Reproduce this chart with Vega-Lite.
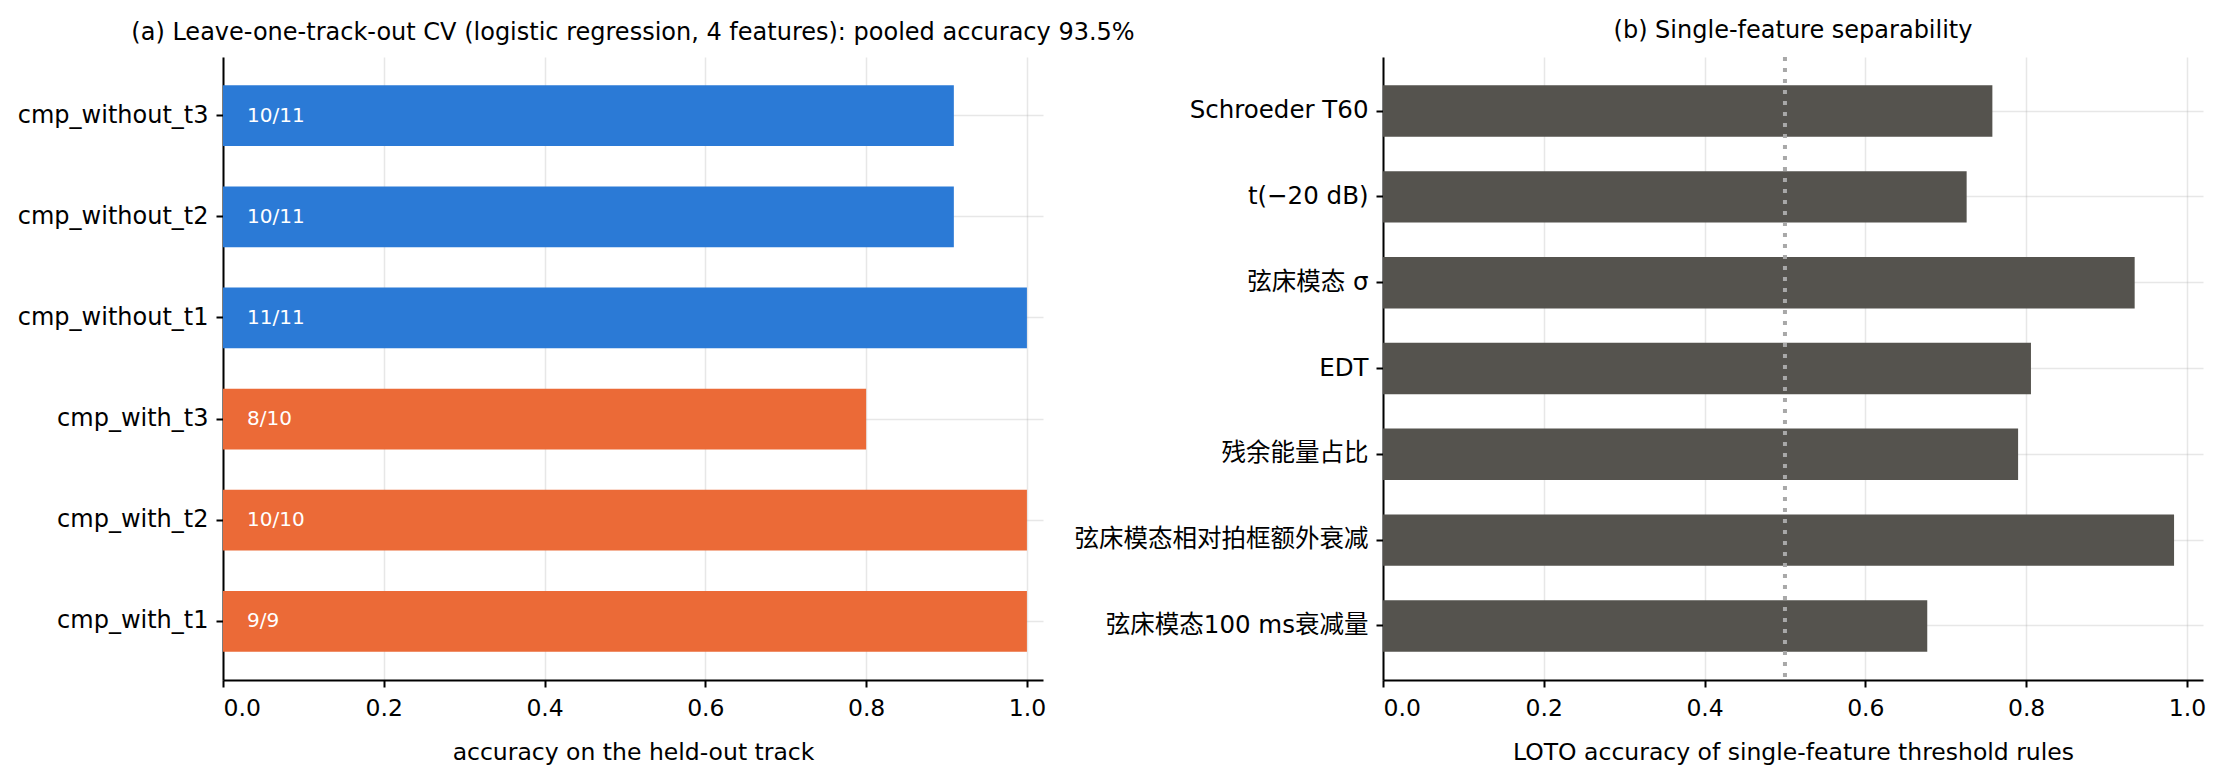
{
  "$schema": "https://vega.github.io/schema/vega-lite/v6.json",
  "padding": {"left": 17, "top": 19, "right": 5, "bottom": 5},
  "bounds": "flush",
  "spacing": 340,
  "config": {
    "font": "DejaVu Sans, Noto Sans CJK SC",
    "view": {"stroke": null},
    "axis": {
      "labelFontSize": 23.5,
      "titleFontSize": 23.5,
      "titleFontWeight": "normal",
      "labelColor": "#000000",
      "titleColor": "#000000",
      "domainColor": "#000000",
      "domainWidth": 2,
      "tickColor": "#000000",
      "tickWidth": 2,
      "tickSize": 7,
      "gridColor": "#b0b0b0",
      "gridOpacity": 0.3,
      "gridWidth": 1.5,
      "zindex": 1,
      "labelPadding": 9,
      "labelLimit": 500,
      "bandPosition": 0.5
    },
    "title": {"fontSize": 24, "fontWeight": "normal", "color": "#000000", "frame": "group", "anchor": "middle", "offset": 12}
  },
  "hconcat": [
    {
      "width": 820,
      "height": 623,
      "title": "(a) Leave-one-track-out CV (logistic regression, 4 features): pooled accuracy 93.5%",
      "data": {"values": [
        {"track": "cmp_without_t3", "accuracy": 0.9091, "condition": "without", "label": "10/11"},
        {"track": "cmp_without_t2", "accuracy": 0.9091, "condition": "without", "label": "10/11"},
        {"track": "cmp_without_t1", "accuracy": 1.0, "condition": "without", "label": "11/11"},
        {"track": "cmp_with_t3", "accuracy": 0.8, "condition": "with", "label": "8/10"},
        {"track": "cmp_with_t2", "accuracy": 1.0, "condition": "with", "label": "10/10"},
        {"track": "cmp_with_t1", "accuracy": 1.0, "condition": "with", "label": "9/9"}
      ]},
      "layer": [
        {
          "mark": "bar",
          "encoding": {
            "y": {"field": "track", "type": "nominal",
                  "sort": ["cmp_without_t3", "cmp_without_t2", "cmp_without_t1", "cmp_with_t3", "cmp_with_t2", "cmp_with_t1"],
                  "scale": {"paddingInner": 0.4, "paddingOuter": 0.28},
                  "axis": {"title": null, "grid": true, "minExtent": 204, "maxExtent": 204, "labelPadding": 8, "labelFontSize": 24}},
            "x": {"field": "accuracy", "type": "quantitative",
                  "scale": {"domain": [0, 1.02], "nice": false},
                  "axis": {"values": [0, 0.2, 0.4, 0.6, 0.8, 1.0], "format": ".1f", "title": "accuracy on the held-out track", "titlePadding": 21}},
            "color": {"field": "condition", "type": "nominal",
                      "scale": {"domain": ["without", "with"], "range": ["#2b7ad6", "#eb6a37"]},
                      "legend": null}
          }
        },
        {
          "mark": {"type": "text", "align": "left", "baseline": "middle", "color": "#ffffff", "fontSize": 20},
          "encoding": {
            "y": {"field": "track", "type": "nominal",
                  "sort": ["cmp_without_t3", "cmp_without_t2", "cmp_without_t1", "cmp_with_t3", "cmp_with_t2", "cmp_with_t1"]},
            "x": {"datum": 0.03, "type": "quantitative"},
            "text": {"field": "label"}
          }
        }
      ]
    },
    {
      "width": 820,
      "height": 623,
      "title": "(b) Single-feature separability",
      "data": {"values": [
        {"feature": "Schroeder T60", "accuracy": 0.758},
        {"feature": "t(−20 dB)", "accuracy": 0.726},
        {"feature": "弦床模态 σ", "accuracy": 0.935},
        {"feature": "EDT", "accuracy": 0.806},
        {"feature": "残余能量占比", "accuracy": 0.790},
        {"feature": "弦床模态相对拍框额外衰减", "accuracy": 0.984},
        {"feature": "弦床模态100 ms衰减量", "accuracy": 0.677}
      ]},
      "layer": [
        {
          "mark": {"type": "bar", "color": "#55534e"},
          "encoding": {
            "y": {"field": "feature", "type": "nominal",
                  "sort": ["Schroeder T60", "t(−20 dB)", "弦床模态 σ", "EDT", "残余能量占比", "弦床模态相对拍框额外衰减", "弦床模态100 ms衰减量"],
                  "scale": {"paddingInner": 0.4, "paddingOuter": 0.33},
                  "axis": {"title": null, "grid": true, "labelPadding": 8, "labelFontSize": 24.5}},
            "x": {"field": "accuracy", "type": "quantitative",
                  "scale": {"domain": [0, 1.02], "nice": false},
                  "axis": {"values": [0, 0.2, 0.4, 0.6, 0.8, 1.0], "format": ".1f", "title": "LOTO accuracy of single-feature threshold rules", "titlePadding": 21}}
          }
        },
        {
          "data": {"values": [{"chance": 0.5}]},
          "mark": {"type": "rule", "strokeDash": [4, 7], "color": "#a8a8a8", "strokeWidth": 4},
          "encoding": {
            "x": {"field": "chance", "type": "quantitative"}
          }
        }
      ]
    }
  ]
}
